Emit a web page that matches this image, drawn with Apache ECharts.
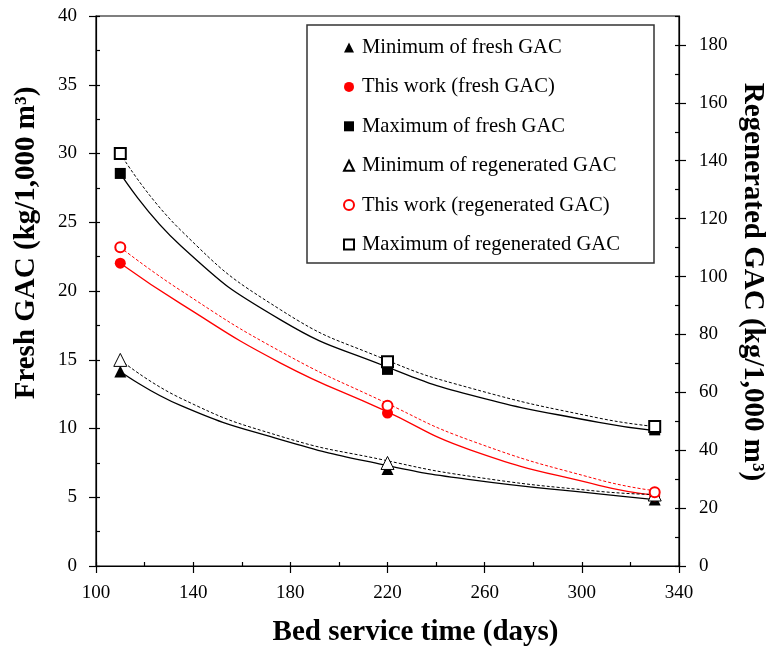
<!DOCTYPE html>
<html><head><meta charset="utf-8">
<script src="https://cdn.jsdelivr.net/npm/echarts@6/dist/echarts.min.js"></script>
<style>html,body{margin:0;padding:0;background:#fff}#c{width:768px;height:653px}</style>
</head><body><div id="c"></div>
<script>
// Measured points (bed service time, days)
const days = [110, 220, 330];
const minFresh = [14.15, 7.05, 4.83];        // kg/1,000 m3 (left axis)
const thisFresh = [22.02, 11.12, 5.1];
const maxFresh = [28.55, 14.3, 9.9];
const minRegen = [71.2, 35.6, 24.7];         // kg/1,000 m3 (right axis)
const thisRegen = [110.1, 55.4, 25.5];
const maxRegen = [142.5, 70.6, 48.2];

// Fitted curves
const fitDays = [110, 135, 176, 218, 254, 307, 330];
const fitMinFresh = [14.15, 11.66, 9.19, 7.37, 6.28, 5.24, 4.83];
const fitThisFresh = [22.02, 19.06, 14.76, 11.37, 8.45, 5.87, 5.15];
const fitMaxFresh = [28.55, 23.27, 17.9, 14.6, 12.45, 10.44, 9.85];
const fitMinRegen = [71.25, 57.9, 44.8, 36.7, 31.0, 25.8, 24.7];
const fitThisRegen = [110.1, 95.1, 74.1, 56.9, 43.4, 29.8, 26.0];
const fitMaxRegen = [142.5, 115.9, 88.5, 71.7, 61.5, 51.1, 48.2];

const xTicks = [100, 140, 180, 220, 260, 300, 340];
const leftTicks = [0, 5, 10, 15, 20, 25, 30, 35, 40];
const rightTicks = [0, 20, 40, 60, 80, 100, 120, 140, 160, 180];

const names = ['Minimum of fresh GAC', 'This work (fresh GAC)', 'Maximum of fresh GAC',
  'Minimum of regenerated GAC', 'This work (regenerated GAC)', 'Maximum of regenerated GAC'];

const FONT = "'Liberation Serif', 'Times New Roman', serif";
const RED = '#ff0000';
const pairs = (xs, ys) => xs.map((x, i) => [x, ys[i]]);

function fitLine(ys, color, dotted, yIdx) {
  return {
    type: 'line', yAxisIndex: yIdx, data: pairs(fitDays, ys), smooth: 0.5,
    showSymbol: false, symbol: 'none', silent: true, z: 2,
    lineStyle: { color: color, width: dotted ? 1 : 1.3, type: dotted ? [3, 2] : 'solid' }
  };
}
function pts(name, ys, yIdx, symbol, size, style, z) {
  return { type: 'scatter', name: name, yAxisIndex: yIdx, data: pairs(days, ys),
    symbol: symbol, symbolSize: size, itemStyle: Object.assign({ opacity: 1 }, style), z: z };
}

const chart = echarts.init(document.getElementById('c'), null, { renderer: 'canvas' });
const axisLine = { show: true, lineStyle: { color: '#000', width: 1.2 } };
const tickLbl = { color: '#000', fontFamily: FONT, fontSize: 19 };
const nameStyle = { color: '#000', fontFamily: FONT, fontSize: 29, fontWeight: 'bold' };

chart.setOption({
  animation: false,
  backgroundColor: '#fff',
  grid: { left: 96, right: 89, top: 16, bottom: 87, show: true, borderColor: '#000', borderWidth: 1.2,
    containLabel: false, outerBoundsMode: 'none' },
  graphic: [{ type: 'rect', shape: { x: 307, y: 25, width: 347, height: 238 },
    style: { fill: 'rgba(0,0,0,0)', stroke: '#333', lineWidth: 1.5 }, z: 1 }],
  legend: {
    data: names, orient: 'vertical', left: 338, top: 32, itemWidth: 10, itemHeight: 10, itemGap: 18.4,
    textStyle: { color: '#000', fontFamily: FONT, fontSize: 20.6, lineHeight: 20, padding: [0, 0, 0, 3] }
  },
  xAxis: [
    { type: 'value', min: 100, max: 340, interval: 40, position: 'bottom',
      name: 'Bed service time (days)', nameLocation: 'middle', nameGap: 52,
      nameTextStyle: Object.assign({ padding: [0, 0, 0, 56] }, nameStyle),
      axisLine: axisLine, axisTick: { show: true, inside: false, length: 7, lineStyle: { color: '#000', width: 1.2 } },
      axisLabel: Object.assign({ margin: 18 }, tickLbl), splitLine: { show: false } },
    { type: 'value', min: 100, max: 340, interval: 20, position: 'bottom',
      axisLine: { show: false }, axisLabel: { show: false }, splitLine: { show: false },
      axisTick: { show: true, inside: true, length: 4, lineStyle: { color: '#000', width: 1.2 } } }
  ],
  yAxis: [
    { type: 'value', min: 0, max: 40, interval: 5, position: 'left',
      name: 'Fresh GAC (kg/1,000 m³)', nameLocation: 'middle', nameGap: 55,
      nameTextStyle: Object.assign({ padding: [0, 0, 0, 96] }, nameStyle),
      axisLine: axisLine, axisTick: { show: true, inside: false, length: 7, lineStyle: { color: '#000', width: 1.2 } },
      axisLabel: Object.assign({ margin: 19 }, tickLbl), splitLine: { show: false } },
    { type: 'value', min: 0, max: 190, interval: 20, position: 'right',
      name: 'Regenerated GAC (kg/1,000 m³)', nameLocation: 'middle', nameGap: 58, nameRotate: -90,
      nameTextStyle: Object.assign({ padding: [0, 18, 0, 0] }, nameStyle),
      axisLine: axisLine,
      axisTick: { show: true, inside: false, length: 7, customValues: rightTicks, lineStyle: { color: '#000', width: 1.2 } },
      axisLabel: Object.assign({ margin: 20, customValues: rightTicks }, tickLbl), splitLine: { show: false } },
    { type: 'value', min: 0, max: 40, interval: 2.5, position: 'left',
      axisLine: { show: false }, axisLabel: { show: false }, splitLine: { show: false },
      axisTick: { show: true, inside: true, length: 4, lineStyle: { color: '#000', width: 1.2 } } },
    { type: 'value', min: 0, max: 190, interval: 10, position: 'right',
      axisLine: { show: false }, axisLabel: { show: false }, splitLine: { show: false },
      axisTick: { show: true, inside: true, length: 4, lineStyle: { color: '#000', width: 1.2 } } }
  ],
  series: [
    fitLine(fitMinFresh, '#000', false, 0),
    fitLine(fitThisFresh, RED, false, 0),
    fitLine(fitMaxFresh, '#000', false, 0),
    fitLine(fitMinRegen, '#000', true, 1),
    fitLine(fitThisRegen, RED, true, 1),
    fitLine(fitMaxRegen, '#000', true, 1),
    pts(names[0], minFresh, 0, 'triangle', 12, { color: '#000' }, 4),
    pts(names[1], thisFresh, 0, 'circle', 11, { color: RED }, 4),
    pts(names[2], maxFresh, 0, 'rect', 11, { color: '#000' }, 4),
    pts(names[3], minRegen, 1, 'triangle', 13, { color: '#fff', borderColor: '#000', borderWidth: 1 }, 5),
    pts(names[4], thisRegen, 1, 'circle', 10, { color: '#fff', borderColor: RED, borderWidth: 2 }, 5),
    pts(names[5], maxRegen, 1, 'rect', 11, { color: '#fff', borderColor: '#000', borderWidth: 2 }, 5)
  ]
});
</script></body></html>
